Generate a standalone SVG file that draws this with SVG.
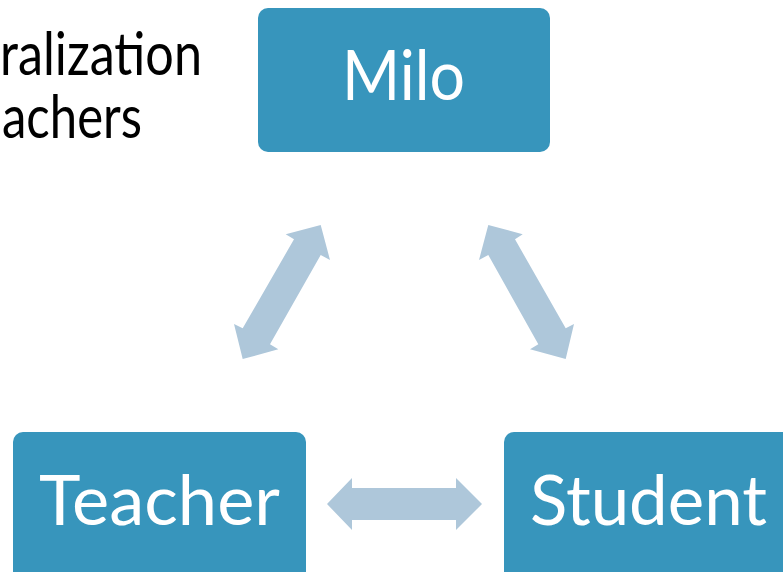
<svg xmlns="http://www.w3.org/2000/svg" width="783" height="572" viewBox="0 0 783 572">
<style>
.box{fill:#3795bc}
.lbl{fill:#ffffff;font-family:Lato,"Open Sans","DejaVu Sans",sans-serif;font-size:70px}
.txt{fill:#000000;font-family:Lato,"Open Sans","DejaVu Sans",sans-serif;font-size:60px}
.arr{fill:#aec7da}
</style>
<rect width="783" height="572" fill="#ffffff"/>
<g id="text">
<text class="txt" x="0" y="75" textLength="202" lengthAdjust="spacingAndGlyphs">ralization</text>
<text class="txt" x="2" y="138" textLength="140" lengthAdjust="spacingAndGlyphs">achers</text>
</g>
<g id="milo">
<rect class="box" x="258" y="8" width="292" height="144" rx="10"/>
<text class="lbl" x="342" y="100" textLength="123" lengthAdjust="spacingAndGlyphs">Milo</text>
</g>
<g id="teacher">
<rect class="box" x="13" y="432" width="293" height="160" rx="10"/>
<text class="lbl" x="39" y="525" textLength="241" lengthAdjust="spacingAndGlyphs">Teacher</text>
</g>
<g id="student">
<rect class="box" x="504" y="432" width="300" height="160" rx="10"/>
<text class="lbl" x="530" y="525" textLength="237" lengthAdjust="spacingAndGlyphs">Student</text>
</g>
<g id="connectors">
<polygon class="arr" points="320.7,225 330,260 320.7,255 270,344.3 278.3,349.3 242.7,359 234,324 242.7,328.3 294,239.3 285.7,234.3"/>
<polygon class="arr" points="488.3,225 479,260 488.3,255 538.3,344.3 530,349.3 565.7,359 574,324 565.7,328.3 515,239.3 522.7,234.3"/>
<polygon class="arr" points="327,504 352,478 352,488 456,488 456,478 482,504 456,530 456,520 352,520 352,530"/>
</g>
</svg>
